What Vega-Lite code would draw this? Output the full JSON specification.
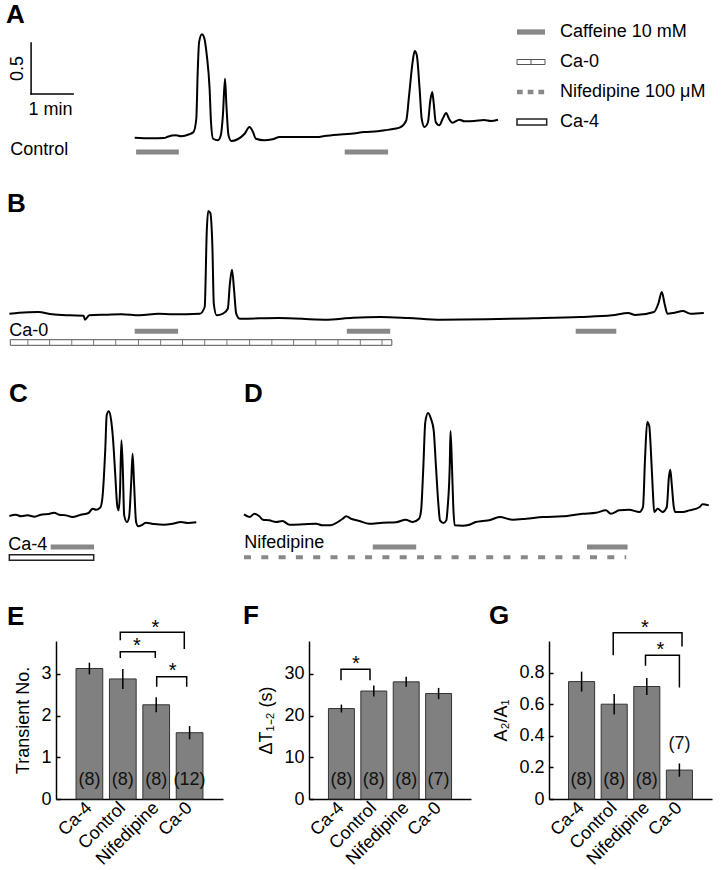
{
  "$schema": "https://vega.github.io/schema/vega-lite/v6.json",
  "padding": {"left": 5, "top": 2, "right": 0, "bottom": 0},
  "bounds": "flush",
  "spacing": 50,
  "config": {
    "view": {"stroke": null},
    "font": "Liberation Sans",
    "title": {"anchor": "start", "frame": "group", "fontSize": 26, "fontWeight": "bold", "baseline": "alphabetic", "color": "black", "font": "Liberation Sans"},
    "axis": {"labelFont": "Liberation Sans", "titleFont": "Liberation Sans", "labelColor": "black", "titleColor": "black", "domainColor": "black", "tickColor": "black", "labelFontSize": 18, "titleFontSize": 18, "titleFontWeight": "normal", "domainWidth": 1.5, "grid": false},
    "axisY": {"tickSize": -4, "tickWidth": 1.5, "labelPadding": 9, "titlePadding": 8, "labelOverlap": false},
    "axisX": {"ticks": false, "labelAngle": -45, "labelAlign": "right", "labelBaseline": "middle", "labelPadding": 6}
  },
  "datasets": {
    "traceA": [{"t":181,"r":0.189},{"t":204,"r":0.183},{"t":223,"r":0.186},{"t":228,"r":0.199},{"t":240,"r":0.213},{"t":247,"r":0.203},{"t":259,"r":0.223},{"t":265,"r":0.245},{"t":269,"r":0.375},{"t":271,"r":0.833},{"t":273,"r":1.127},{"t":277,"r":1.203},{"t":280,"r":1.176},{"t":284,"r":0.997},{"t":288,"r":0.67},{"t":290,"r":0.343},{"t":293,"r":0.179},{"t":300,"r":0.164},{"t":304,"r":0.213},{"t":307,"r":0.409},{"t":310,"r":0.768},{"t":312,"r":0.507},{"t":315,"r":0.213},{"t":319,"r":0.157},{"t":328,"r":0.174},{"t":338,"r":0.228},{"t":345,"r":0.294},{"t":350,"r":0.245},{"t":354,"r":0.179},{"t":366,"r":0.164},{"t":378,"r":0.174},{"t":388,"r":0.196},{"t":414,"r":0.196},{"t":442,"r":0.196},{"t":452,"r":0.206},{"t":471,"r":0.219},{"t":490,"r":0.228},{"t":509,"r":0.245},{"t":528,"r":0.252},{"t":538,"r":0.262},{"t":552,"r":0.277},{"t":561,"r":0.294},{"t":569,"r":0.36},{"t":573,"r":0.605},{"t":578,"r":0.931},{"t":581,"r":1.039},{"t":584,"r":0.997},{"t":588,"r":0.67},{"t":591,"r":0.375},{"t":595,"r":0.294},{"t":600,"r":0.343},{"t":603,"r":0.539},{"t":606,"r":0.637},{"t":608,"r":0.539},{"t":611,"r":0.343},{"t":616,"r":0.311},{"t":621,"r":0.375},{"t":626,"r":0.431},{"t":630,"r":0.375},{"t":635,"r":0.336},{"t":645,"r":0.366},{"t":652,"r":0.35},{"t":666,"r":0.353},{"t":680,"r":0.363},{"t":690,"r":0.353},{"t":700,"r":0.366}],
    "traceB": [{"t":2,"r":0.346},{"t":16,"r":0.356},{"t":43,"r":0.363},{"t":63,"r":0.34},{"t":89,"r":0.33},{"t":108,"r":0.326},{"t":110,"r":0.287},{"t":116,"r":0.33},{"t":142,"r":0.336},{"t":162,"r":0.34},{"t":188,"r":0.33},{"t":215,"r":0.346},{"t":235,"r":0.34},{"t":274,"r":0.346},{"t":281,"r":0.412},{"t":284,"r":1.164},{"t":286,"r":1.353},{"t":289,"r":1.333},{"t":292,"r":1.0},{"t":294,"r":0.444},{"t":298,"r":0.33},{"t":307,"r":0.346},{"t":314,"r":0.395},{"t":317,"r":0.64},{"t":320,"r":0.777},{"t":323,"r":0.575},{"t":326,"r":0.346},{"t":331,"r":0.297},{"t":387,"r":0.304},{"t":453,"r":0.287},{"t":493,"r":0.307},{"t":532,"r":0.314},{"t":572,"r":0.304},{"t":618,"r":0.287},{"t":684,"r":0.291},{"t":751,"r":0.301},{"t":817,"r":0.314},{"t":863,"r":0.33},{"t":886,"r":0.353},{"t":896,"r":0.333},{"t":923,"r":0.363},{"t":929,"r":0.444},{"t":934,"r":0.559},{"t":938,"r":0.444},{"t":942,"r":0.346},{"t":952,"r":0.356},{"t":964,"r":0.373},{"t":975,"r":0.346},{"t":994,"r":0.353}],
    "traceC": [{"t":2,"r":0.471},{"t":11,"r":0.483},{"t":19,"r":0.468},{"t":28,"r":0.477},{"t":38,"r":0.464},{"t":47,"r":0.483},{"t":57,"r":0.49},{"t":66,"r":0.503},{"t":73,"r":0.483},{"t":83,"r":0.477},{"t":92,"r":0.461},{"t":104,"r":0.483},{"t":115,"r":0.5},{"t":121,"r":0.542},{"t":126,"r":0.532},{"t":132,"r":0.556},{"t":135,"r":0.657},{"t":139,"r":1.13},{"t":141,"r":1.458},{"t":144,"r":1.497},{"t":147,"r":1.425},{"t":150,"r":1.228},{"t":153,"r":0.902},{"t":156,"r":0.575},{"t":158,"r":0.526},{"t":160,"r":0.706},{"t":162,"r":1.213},{"t":164,"r":0.934},{"t":166,"r":0.477},{"t":170,"r":0.412},{"t":173,"r":0.461},{"t":176,"r":0.804},{"t":178,"r":1.081},{"t":180,"r":0.804},{"t":183,"r":0.412},{"t":186,"r":0.37},{"t":192,"r":0.385},{"t":197,"r":0.405},{"t":209,"r":0.392},{"t":223,"r":0.385},{"t":235,"r":0.395},{"t":247,"r":0.412},{"t":257,"r":0.402},{"t":269,"r":0.409}],
    "traceD": [{"t":0,"r":0.487},{"t":8,"r":0.461},{"t":15,"r":0.493},{"t":22,"r":0.468},{"t":27,"r":0.434},{"t":36,"r":0.428},{"t":46,"r":0.412},{"t":55,"r":0.422},{"t":65,"r":0.385},{"t":84,"r":0.389},{"t":103,"r":0.395},{"t":112,"r":0.379},{"t":124,"r":0.379},{"t":134,"r":0.412},{"t":141,"r":0.444},{"t":146,"r":0.468},{"t":153,"r":0.444},{"t":165,"r":0.422},{"t":179,"r":0.395},{"t":198,"r":0.405},{"t":217,"r":0.409},{"t":231,"r":0.434},{"t":241,"r":0.412},{"t":250,"r":0.444},{"t":253,"r":0.526},{"t":256,"r":0.919},{"t":259,"r":1.392},{"t":263,"r":1.48},{"t":267,"r":1.425},{"t":271,"r":1.311},{"t":274,"r":0.983},{"t":278,"r":0.559},{"t":280,"r":0.428},{"t":285,"r":0.402},{"t":289,"r":0.428},{"t":291,"r":0.559},{"t":294,"r":0.983},{"t":295,"r":1.304},{"t":297,"r":0.983},{"t":299,"r":0.559},{"t":301,"r":0.379},{"t":312,"r":0.375},{"t":322,"r":0.385},{"t":331,"r":0.412},{"t":341,"r":0.422},{"t":350,"r":0.428},{"t":365,"r":0.461},{"t":384,"r":0.434},{"t":403,"r":0.444},{"t":427,"r":0.461},{"t":455,"r":0.468},{"t":484,"r":0.493},{"t":503,"r":0.503},{"t":517,"r":0.526},{"t":524,"r":0.493},{"t":536,"r":0.526},{"t":550,"r":0.532},{"t":565,"r":0.51},{"t":570,"r":0.559},{"t":573,"r":1.049},{"t":576,"r":1.392},{"t":579,"r":1.35},{"t":581,"r":1.147},{"t":584,"r":0.723},{"t":586,"r":0.51},{"t":591,"r":0.542},{"t":598,"r":0.51},{"t":604,"r":0.559},{"t":607,"r":0.853},{"t":609,"r":0.925},{"t":611,"r":0.787},{"t":614,"r":0.559},{"t":616,"r":0.51},{"t":627,"r":0.51},{"t":636,"r":0.526},{"t":651,"r":0.559},{"t":655,"r":0.585},{"t":664,"r":0.575}],
    "caffeine": [{"panel":"A","start":183,"end":244},{"panel":"A","start":481,"end":543},{"panel":"B","start":181,"end":243},{"panel":"B","start":484,"end":546},{"panel":"B","start":811,"end":869},{"panel":"C","start":61,"end":123},{"panel":"D","start":184,"end":246},{"panel":"D","start":490,"end":548}],
    "perfusion": [{"panel":"B","treatment":"Ca-0","start":3.3,"end":548.3},{"panel":"C","treatment":"Ca-4","start":1.9,"end":122.4},{"panel":"D","treatment":"Nifedipine","start":0,"end":546}],
    "ca0Marks": [{"t":28.4},{"t":59.4},{"t":91.1},{"t":122.3},{"t":153.9},{"t":186.4},{"t":218.1},{"t":249.3},{"t":281},{"t":312.7},{"t":345.1},{"t":376.9},{"t":408},{"t":439.7},{"t":471.4},{"t":503.3},{"t":534.3}],
    "legend": [{"item":"Caffeine 10 mM","row":1},{"item":"Ca-0","row":2},{"item":"Nifedipine 100 μM","row":3},{"item":"Ca-4","row":4}],
    "stats": [
      {"panel":"E","group":"Ca-4","mean":3.13,"sem":0.14,"n":8},
      {"panel":"E","group":"Control","mean":2.88,"sem":0.24,"n":8},
      {"panel":"E","group":"Nifedipine","mean":2.26,"sem":0.18,"n":8},
      {"panel":"E","group":"Ca-0","mean":1.59,"sem":0.16,"n":12},
      {"panel":"F","group":"Ca-4","mean":21.7,"sem":0.95,"n":8},
      {"panel":"F","group":"Control","mean":25.9,"sem":1.3,"n":8},
      {"panel":"F","group":"Nifedipine","mean":28.1,"sem":1.2,"n":8},
      {"panel":"F","group":"Ca-0","mean":25.3,"sem":1.35,"n":7},
      {"panel":"G","group":"Ca-4","mean":0.743,"sem":0.063,"n":8},
      {"panel":"G","group":"Control","mean":0.6,"sem":0.065,"n":8},
      {"panel":"G","group":"Nifedipine","mean":0.712,"sem":0.054,"n":8},
      {"panel":"G","group":"Ca-0","mean":0.183,"sem":0.042,"n":7}
    ],
    "brackets": [
      {"panel":"E","comp":"Control-Nifedipine","k":1,"pos":1.925,"y":3.38},{"panel":"E","comp":"Control-Nifedipine","k":2,"pos":1.925,"y":3.53},{"panel":"E","comp":"Control-Nifedipine","k":3,"pos":2.973,"y":3.53},{"panel":"E","comp":"Control-Nifedipine","k":4,"pos":2.973,"y":3.38},
      {"panel":"E","comp":"Control-Ca-0","k":1,"pos":1.925,"y":3.81},{"panel":"E","comp":"Control-Ca-0","k":2,"pos":1.925,"y":4.0},{"panel":"E","comp":"Control-Ca-0","k":3,"pos":3.841,"y":4.0},{"panel":"E","comp":"Control-Ca-0","k":4,"pos":3.841,"y":3.6},
      {"panel":"E","comp":"Nifedipine-Ca-0","k":1,"pos":3.015,"y":2.69},{"panel":"E","comp":"Nifedipine-Ca-0","k":2,"pos":3.015,"y":2.93},{"panel":"E","comp":"Nifedipine-Ca-0","k":3,"pos":3.913,"y":2.93},{"panel":"E","comp":"Nifedipine-Ca-0","k":4,"pos":3.913,"y":2.69},
      {"panel":"F","comp":"Ca-4-Control","k":1,"pos":0.988,"y":28.5},{"panel":"F","comp":"Ca-4-Control","k":2,"pos":0.988,"y":31.1},{"panel":"F","comp":"Ca-4-Control","k":3,"pos":1.883,"y":31.1},{"panel":"F","comp":"Ca-4-Control","k":4,"pos":1.883,"y":28.5},
      {"panel":"G","comp":"Control-Ca-0","k":1,"pos":1.97,"y":0.91},{"panel":"G","comp":"Control-Ca-0","k":2,"pos":1.97,"y":1.053},{"panel":"G","comp":"Control-Ca-0","k":3,"pos":4.08,"y":1.053},{"panel":"G","comp":"Control-Ca-0","k":4,"pos":4.08,"y":0.965},
      {"panel":"G","comp":"Nifedipine-Ca-0","k":1,"pos":2.96,"y":0.843},{"panel":"G","comp":"Nifedipine-Ca-0","k":2,"pos":2.96,"y":0.91},{"panel":"G","comp":"Nifedipine-Ca-0","k":3,"pos":4.0,"y":0.91},{"panel":"G","comp":"Nifedipine-Ca-0","k":4,"pos":4.0,"y":0.706}
    ],
    "stars": [
      {"panel":"E","comp":"Control-Nifedipine","pos":2.425,"y":3.77},
      {"panel":"E","comp":"Control-Ca-0","pos":2.973,"y":4.2},
      {"panel":"E","comp":"Nifedipine-Ca-0","pos":3.494,"y":3.17},
      {"panel":"F","comp":"Ca-4-Control","pos":1.45,"y":33.3},
      {"panel":"G","comp":"Control-Ca-0","pos":2.94,"y":1.105},
      {"panel":"G","comp":"Nifedipine-Ca-0","pos":3.42,"y":0.969}
    ]
  },
  "vconcat": [
    {
      "width": 713, "height": 133,
      "title": {"text": "A", "dx": -2, "offset": -5},
      "layer": [
        {
          "layer": [
            {"data": {"name": "traceA"}, "mark": {"type": "line", "color": "black", "strokeWidth": 2, "interpolate": "monotone"},
             "encoding": {"x": {"field": "t", "type": "quantitative", "scale": {"domain": [0, 1018.57], "nice": false, "zero": false}, "axis": null},
                          "y": {"field": "r", "type": "quantitative", "scale": {"domain": [0, 1.304], "nice": false, "zero": false}, "axis": null}}},
            {"data": {"name": "caffeine"}, "transform": [{"filter": "datum.panel === 'A'"}], "mark": {"type": "rule", "color": "#888888", "strokeWidth": 5},
             "encoding": {"x": {"field": "start", "type": "quantitative"}, "x2": {"field": "end"}, "y": {"datum": 0.049}}},
            {"data": {"values": [{}]}, "mark": {"type": "rule", "color": "black", "strokeWidth": 1.5, "strokeCap": "square"},
             "encoding": {"x": {"datum": 33}, "y": {"datum": 0.618}, "y2": {"datum": 1.118}}},
            {"data": {"values": [{}]}, "mark": {"type": "rule", "color": "black", "strokeWidth": 1.5, "strokeCap": "square"},
             "encoding": {"x": {"datum": 33}, "x2": {"datum": 93}, "y": {"datum": 0.618}}},
            {"data": {"values": [{}]}, "mark": {"type": "text", "fontSize": 18, "angle": 270, "align": "center", "baseline": "middle"},
             "encoding": {"x": {"datum": 13.6}, "y": {"datum": 0.868}, "text": {"value": "0.5"}}},
            {"data": {"values": [{}]}, "mark": {"type": "text", "fontSize": 18, "align": "center", "baseline": "middle"},
             "encoding": {"x": {"datum": 60.7}, "y": {"datum": 0.456}, "text": {"value": "1 min"}}},
            {"data": {"values": [{}]}, "mark": {"type": "text", "fontSize": 18, "align": "left", "baseline": "alphabetic"},
             "encoding": {"x": {"datum": 3.3}, "y": {"datum": 0.02}, "text": {"value": "Control"}}}
          ]
        },
        {
          "layer": [
            {"data": {"name": "legend"}, "transform": [{"filter": "datum.item === 'Caffeine 10 mM'"}], "mark": {"type": "rule", "color": "#888888", "strokeWidth": 5.3},
             "encoding": {"x": {"datum": 6, "type": "quantitative", "scale": {"domain": [-503, 210], "nice": false, "zero": false}, "axis": null}, "x2": {"datum": 34},
                          "y": {"field": "row", "type": "quantitative", "scale": {"domain": [0.7333, 5.1667], "reverse": true, "nice": false, "zero": false}, "axis": null}}},
            {"data": {"name": "legend"}, "transform": [{"filter": "datum.item === 'Ca-0'"}], "mark": {"type": "rect", "fill": "white", "stroke": "#555555", "strokeWidth": 1, "yOffset": -2.5, "y2Offset": 2.5},
             "encoding": {"x": {"datum": 6}, "x2": {"datum": 34}, "y": {"field": "row", "type": "quantitative"}, "y2": {"field": "row"}}},
            {"data": {"name": "legend"}, "transform": [{"filter": "datum.item === 'Ca-0'"}], "mark": {"type": "rule", "stroke": "#555555", "strokeWidth": 1, "yOffset": -2.5, "y2Offset": 2.5},
             "encoding": {"x": {"datum": 20}, "y": {"field": "row", "type": "quantitative"}, "y2": {"field": "row"}}},
            {"data": {"name": "legend"}, "transform": [{"filter": "datum.item === 'Nifedipine 100 μM'"}], "mark": {"type": "rule", "color": "#888888", "strokeWidth": 4.5, "strokeDash": [5.7, 5]},
             "encoding": {"x": {"datum": 6}, "x2": {"datum": 33.3}, "y": {"field": "row", "type": "quantitative"}}},
            {"data": {"name": "legend"}, "transform": [{"filter": "datum.item === 'Ca-4'"}], "mark": {"type": "rect", "fill": "white", "stroke": "#222222", "strokeWidth": 1.5, "yOffset": -3, "y2Offset": 3},
             "encoding": {"x": {"datum": 6}, "x2": {"datum": 35.7}, "y": {"field": "row", "type": "quantitative"}, "y2": {"field": "row"}}},
            {"data": {"name": "legend"}, "mark": {"type": "text", "fontSize": 18, "align": "left", "baseline": "middle"},
             "encoding": {"x": {"datum": 49}, "y": {"field": "row", "type": "quantitative"}, "text": {"field": "item"}}}
          ]
        }
      ],
      "resolve": {"scale": {"x": "independent", "y": "independent"}}
    },
    {
      "width": 700, "height": 142,
      "title": {"text": "B", "dx": -1, "offset": -10},
      "layer": [
        {"data": {"name": "traceB"}, "mark": {"type": "line", "color": "black", "strokeWidth": 2, "interpolate": "monotone"},
         "encoding": {"x": {"field": "t", "type": "quantitative", "scale": {"domain": [0, 1000], "nice": false, "zero": false}, "axis": null},
                      "y": {"field": "r", "type": "quantitative", "scale": {"domain": [0, 1.392], "nice": false, "zero": false}, "axis": null}}},
        {"data": {"name": "caffeine"}, "transform": [{"filter": "datum.panel === 'B'"}], "mark": {"type": "rule", "color": "#888888", "strokeWidth": 5},
         "encoding": {"x": {"field": "start", "type": "quantitative"}, "x2": {"field": "end"}, "y": {"datum": 0.174}}},
        {"data": {"name": "perfusion"}, "transform": [{"filter": "datum.panel === 'B'"}], "mark": {"type": "rect", "fill": "white", "stroke": "#555555", "strokeWidth": 1},
         "encoding": {"x": {"field": "start", "type": "quantitative"}, "x2": {"field": "end"}, "y": {"datum": 0.036}, "y2": {"datum": 0.091}}},
        {"data": {"name": "ca0Marks"}, "mark": {"type": "rule", "stroke": "#777777", "strokeWidth": 1},
         "encoding": {"x": {"field": "t", "type": "quantitative"}, "y": {"datum": 0.036}, "y2": {"datum": 0.091}}},
        {"data": {"values": [{}]}, "mark": {"type": "text", "fontSize": 18, "align": "left", "baseline": "alphabetic"},
         "encoding": {"x": {"datum": 1.9}, "y": {"datum": 0.127}, "text": {"value": "Ca-0"}}}
      ]
    },
    {
      "width": 701, "height": 192,
      "layer": [
        {
          "layer": [
            {"data": {"name": "traceC"}, "mark": {"type": "line", "color": "black", "strokeWidth": 2, "interpolate": "monotone"},
             "encoding": {"x": {"field": "t", "type": "quantitative", "scale": {"domain": [0, 1001.43], "nice": false, "zero": false}, "axis": null},
                          "y": {"field": "r", "type": "quantitative", "scale": {"domain": [-0.2647, 1.618], "nice": false, "zero": false}, "axis": null}}},
            {"data": {"name": "caffeine"}, "transform": [{"filter": "datum.panel === 'C'"}], "mark": {"type": "rule", "color": "#888888", "strokeWidth": 5},
             "encoding": {"x": {"field": "start", "type": "quantitative"}, "x2": {"field": "end"}, "y": {"datum": 0.167}}},
            {"data": {"name": "perfusion"}, "transform": [{"filter": "datum.panel === 'C'"}], "mark": {"type": "rect", "fill": "white", "stroke": "#222222", "strokeWidth": 1.5},
             "encoding": {"x": {"field": "start", "type": "quantitative"}, "x2": {"field": "end"}, "y": {"datum": 0.036}, "y2": {"datum": 0.091}}},
            {"data": {"values": [{}]}, "mark": {"type": "text", "fontSize": 18, "align": "left", "baseline": "alphabetic"},
             "encoding": {"x": {"datum": 0.4}, "y": {"datum": 0.14}, "text": {"value": "Ca-4"}}},
            {"data": {"values": [{}]}, "mark": {"type": "text", "fontSize": 26, "fontWeight": "bold", "align": "left", "baseline": "alphabetic"},
             "encoding": {"x": {"datum": 1.4}, "y": {"datum": 1.589}, "text": {"value": "C"}}}
          ]
        },
        {
          "layer": [
            {"data": {"name": "traceD"}, "mark": {"type": "line", "color": "black", "strokeWidth": 2, "interpolate": "monotone"},
             "encoding": {"x": {"field": "t", "type": "quantitative", "scale": {"domain": [-337.14, 664.29], "nice": false, "zero": false}, "axis": null},
                          "y": {"field": "r", "type": "quantitative", "scale": {"domain": [-0.2647, 1.618], "nice": false, "zero": false}, "axis": null}}},
            {"data": {"name": "caffeine"}, "transform": [{"filter": "datum.panel === 'D'"}], "mark": {"type": "rule", "color": "#888888", "strokeWidth": 5},
             "encoding": {"x": {"field": "start", "type": "quantitative"}, "x2": {"field": "end"}, "y": {"datum": 0.167}}},
            {"data": {"name": "perfusion"}, "transform": [{"filter": "datum.panel === 'D'"}], "mark": {"type": "rule", "color": "#888888", "strokeWidth": 4, "strokeDash": [7, 10.3]},
             "encoding": {"x": {"field": "start", "type": "quantitative"}, "x2": {"field": "end"}, "y": {"datum": 0.066}}},
            {"data": {"values": [{}]}, "mark": {"type": "text", "fontSize": 18, "align": "left", "baseline": "alphabetic"},
             "encoding": {"x": {"datum": 0.4}, "y": {"datum": 0.157}, "text": {"value": "Nifedipine"}}},
            {"data": {"values": [{}]}, "mark": {"type": "text", "fontSize": 26, "fontWeight": "bold", "align": "left", "baseline": "alphabetic"},
             "encoding": {"x": {"datum": 0}, "y": {"datum": 1.589}, "text": {"value": "D"}}}
          ]
        }
      ],
      "resolve": {"scale": {"x": "independent"}}
    },
    {
      "bounds": "flush",
      "spacing": 40,
      "hconcat": [
        {"width": 8, "height": 158, "data": {"values": []}, "mark": "point"},
        {
          "bounds": "flush",
          "spacing": 86,
          "hconcat": [
            {
              "width": 167, "height": 158,
              "title": {"text": "E", "dx": -49, "offset": -12},
              "layer": [
                {
                  "data": {"name": "stats"},
                  "transform": [{"filter": "datum.panel === 'E'"}, {"calculate": "'(' + datum.n + ')'", "as": "nLabel"}],
                  "encoding": {"x": {"field": "group", "type": "nominal", "sort": ["Ca-4", "Control", "Nifedipine", "Ca-0"], "scale": {"paddingInner": 0.2, "paddingOuter": 0.6}, "axis": {"title": null}},
                               "y": {"field": "mean", "type": "quantitative", "title": "Transient No.", "scale": {"domain": [0, 3.79], "nice": false}, "axis": {"values": [0, 1, 2, 3], "labelOverlap": false}}},
                  "layer": [
                    {"mark": {"type": "bar", "fill": "#808080", "stroke": "#333333", "strokeWidth": 1}},
                    {"mark": {"type": "errorbar", "color": "black", "thickness": 1.5}, "encoding": {"yError": {"field": "sem"}}},
                    {"mark": {"type": "text", "fontSize": 18, "baseline": "middle", "color": "#111111"},
                     "encoding": {"y": {"datum": 0.45}, "text": {"field": "nLabel"}}}
                  ]
                },
                {
                  "layer": [
                    {"data": {"name": "brackets"}, "transform": [{"filter": "datum.panel === 'E'"}], "mark": {"type": "line", "color": "black", "strokeWidth": 1.5},
                     "encoding": {"x": {"field": "pos", "type": "quantitative", "scale": {"domain": [0, 5], "nice": false, "zero": false}, "axis": null}, "y": {"field": "y", "type": "quantitative", "title": "Transient No.", "axis": {"values": [0, 1, 2, 3], "labelOverlap": false}}, "detail": {"field": "comp"}, "order": {"field": "k"}}},
                    {"data": {"name": "stars"}, "transform": [{"filter": "datum.panel === 'E'"}], "mark": {"type": "text", "text": "*", "fontSize": 20, "dy": 4},
                     "encoding": {"x": {"field": "pos", "type": "quantitative"}, "y": {"field": "y", "type": "quantitative", "title": "Transient No.", "axis": {"values": [0, 1, 2, 3], "labelOverlap": false}}}}
                  ]
                }
              ],
              "resolve": {"scale": {"x": "independent"}}
            },
            {
              "bounds": "flush",
              "spacing": 78,
              "hconcat": [
                {
                  "width": 162, "height": 158,
                  "title": {"text": "F", "dx": -66, "offset": 12},
                  "layer": [
                    {
                      "data": {"name": "stats"},
                      "transform": [{"filter": "datum.panel === 'F'"}, {"calculate": "'(' + datum.n + ')'", "as": "nLabel"}],
                      "encoding": {"x": {"field": "group", "type": "nominal", "sort": ["Ca-4", "Control", "Nifedipine", "Ca-0"], "scale": {"paddingInner": 0.2, "paddingOuter": 0.6}, "axis": {"title": null}},
                                   "y": {"field": "mean", "type": "quantitative", "title": "ΔT₁₋₂ (s)", "scale": {"domain": [0, 37.9], "nice": false}, "axis": {"values": [0, 10, 20, 30], "labelOverlap": false}}},
                      "layer": [
                        {"mark": {"type": "bar", "fill": "#808080", "stroke": "#333333", "strokeWidth": 1}},
                        {"mark": {"type": "errorbar", "color": "black", "thickness": 1.5}, "encoding": {"yError": {"field": "sem"}}},
                        {"mark": {"type": "text", "fontSize": 18, "baseline": "middle", "color": "#111111"},
                         "encoding": {"y": {"datum": 4.6}, "text": {"field": "nLabel"}}}
                      ]
                    },
                    {
                      "layer": [
                        {"data": {"name": "brackets"}, "transform": [{"filter": "datum.panel === 'F'"}], "mark": {"type": "line", "color": "black", "strokeWidth": 1.5},
                         "encoding": {"x": {"field": "pos", "type": "quantitative", "scale": {"domain": [0, 5], "nice": false, "zero": false}, "axis": null}, "y": {"field": "y", "type": "quantitative", "title": "ΔT₁₋₂ (s)", "axis": {"values": [0, 10, 20, 30], "labelOverlap": false}}, "detail": {"field": "comp"}, "order": {"field": "k"}}},
                        {"data": {"name": "stars"}, "transform": [{"filter": "datum.panel === 'F'"}], "mark": {"type": "text", "text": "*", "fontSize": 20, "dy": 4},
                         "encoding": {"x": {"field": "pos", "type": "quantitative"}, "y": {"field": "y", "type": "quantitative", "title": "ΔT₁₋₂ (s)", "axis": {"values": [0, 10, 20, 30], "labelOverlap": false}}}}
                      ]
                    }
                  ],
                  "resolve": {"scale": {"x": "independent"}}
                },
                {
                  "width": 163, "height": 158,
                  "title": {"text": "G", "dx": -60, "offset": -11},
                  "layer": [
                    {
                      "data": {"name": "stats"},
                      "transform": [{"filter": "datum.panel === 'G'"}, {"calculate": "'(' + datum.n + ')'", "as": "nLabel"}],
                      "encoding": {"x": {"field": "group", "type": "nominal", "sort": ["Ca-4", "Control", "Nifedipine", "Ca-0"], "scale": {"paddingInner": 0.2, "paddingOuter": 0.6}, "axis": {"title": null}},
                                   "y": {"field": "mean", "type": "quantitative", "title": "A₂/A₁", "scale": {"domain": [0, 1.0], "nice": false}, "axis": {"values": [0, 0.2, 0.4, 0.6, 0.8], "format": "~g", "labelOverlap": false}}},
                      "layer": [
                        {"mark": {"type": "bar", "fill": "#808080", "stroke": "#333333", "strokeWidth": 1}},
                        {"mark": {"type": "errorbar", "color": "black", "thickness": 1.5}, "encoding": {"yError": {"field": "sem"}}},
                        {"transform": [{"filter": "datum.group !== 'Ca-0'"}], "mark": {"type": "text", "fontSize": 18, "baseline": "middle", "color": "#111111"},
                         "encoding": {"y": {"datum": 0.123}, "text": {"field": "nLabel"}}},
                        {"transform": [{"filter": "datum.group === 'Ca-0'"}], "mark": {"type": "text", "fontSize": 18, "baseline": "middle", "color": "#111111"},
                         "encoding": {"y": {"datum": 0.35}, "text": {"field": "nLabel"}}}
                      ]
                    },
                    {
                      "layer": [
                        {"data": {"name": "brackets"}, "transform": [{"filter": "datum.panel === 'G'"}], "mark": {"type": "line", "color": "black", "strokeWidth": 1.5},
                         "encoding": {"x": {"field": "pos", "type": "quantitative", "scale": {"domain": [0, 5], "nice": false, "zero": false}, "axis": null}, "y": {"field": "y", "type": "quantitative", "title": "A₂/A₁", "axis": {"values": [0, 0.2, 0.4, 0.6, 0.8], "format": "~g", "labelOverlap": false}}, "detail": {"field": "comp"}, "order": {"field": "k"}}},
                        {"data": {"name": "stars"}, "transform": [{"filter": "datum.panel === 'G'"}], "mark": {"type": "text", "text": "*", "fontSize": 20, "dy": 4},
                         "encoding": {"x": {"field": "pos", "type": "quantitative"}, "y": {"field": "y", "type": "quantitative", "title": "A₂/A₁", "axis": {"values": [0, 0.2, 0.4, 0.6, 0.8], "format": "~g", "labelOverlap": false}}}}
                      ]
                    }
                  ],
                  "resolve": {"scale": {"x": "independent"}}
                }
              ]
            }
          ]
        }
      ]
    }
  ]
}
